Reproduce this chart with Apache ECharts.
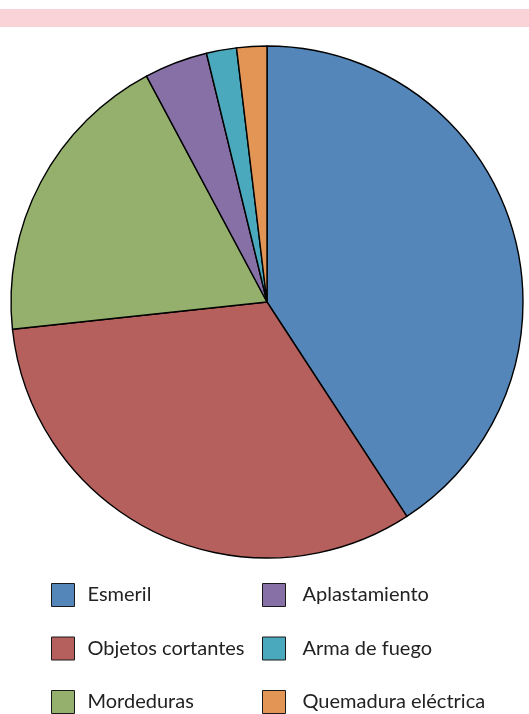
<!DOCTYPE html>
<html>
<head>
<meta charset="utf-8">
<script src="https://cdn.jsdelivr.net/npm/echarts@6/dist/echarts.min.js"></script>
<style>
  html, body { margin: 0; padding: 0; background: #ffffff; }
  #band { position: absolute; left: 0; top: 9px; width: 529px; height: 18px; background: #f9d3d8; }
  #chart { position: absolute; left: 0; top: 0; width: 529px; height: 714px; }
</style>
</head>
<body>
<div id="band"></div>
<div id="chart"></div>
<script>
// Share of injuries by cause (percent)
const categories = ['Esmeril', 'Objetos cortantes', 'Mordeduras', 'Aplastamiento', 'Arma de fuego', 'Quemadura eléctrica'];
const values = [40.8, 32.5, 18.9, 4.0, 1.9, 1.9];
const colors = ['#5486ba', '#b5605d', '#94b06c', '#8670a6', '#4aa9bd', '#e39555'];

const legendLeft = categories.slice(0, 3);
const legendRight = categories.slice(3);

const chart = echarts.init(document.getElementById('chart'), null, { renderer: 'canvas' });

function legendColumn(left, names, textGap) {
  return {
    orient: 'vertical',
    left: left,
    top: 583,
    height: 200,
    padding: 0,
    itemWidth: 23,
    itemHeight: 23,
    itemGap: 29.5,
    icon: 'rect',
    selectedMode: false,
    data: names,
    itemStyle: { borderColor: '#1a1a1a', borderWidth: 1 },
    textStyle: { fontFamily: 'Lato', fontSize: 20, color: '#222', padding: [0, 0, 0, textGap] }
  };
}

chart.setOption({
  animation: false,
  color: colors,
  legend: [
    legendColumn(51, legendLeft, 8),
    legendColumn(262, legendRight, 12)
  ],
  series: [{
    type: 'pie',
    center: [267, 302],
    radius: 256,
    startAngle: 90,
    clockwise: true,
    silent: true,
    label: { show: false },
    labelLine: { show: false },
    itemStyle: { borderColor: '#000', borderWidth: 1.4 },
    data: categories.map((name, i) => ({ name, value: values[i] }))
  }]
});
</script>
</body>
</html>
